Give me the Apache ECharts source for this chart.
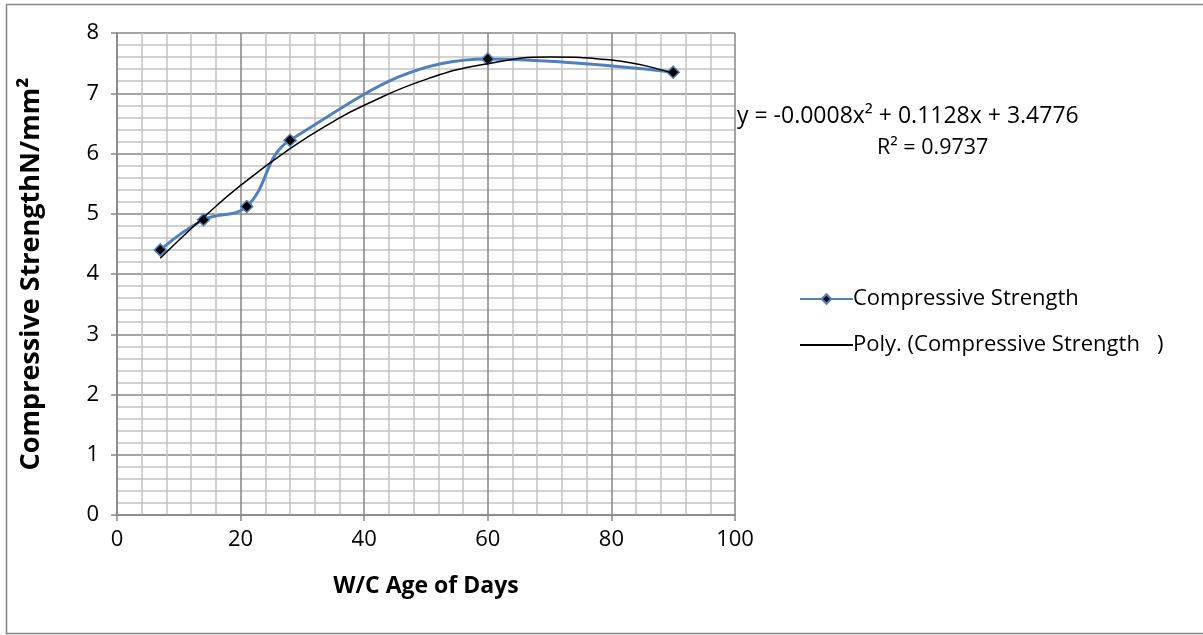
<!DOCTYPE html>
<html>
<head>
<meta charset="utf-8">
<script src="https://cdn.jsdelivr.net/npm/echarts@6/dist/echarts.min.js"></script>
<style>
  html, body { margin: 0; padding: 0; background: #fff; }
  #main_chart { width: 1203px; height: 635px; }
</style>
</head>
<body>
<div id="main_chart"></div>
<script>
// age in days and measured strength
var ageDays = [7, 14, 21, 28, 60, 90];
var strength = [4.4, 4.9, 5.12, 6.22, 7.57, 7.35];

// polynomial trendline
var trendDays = [7, 10, 14, 20, 28, 35, 40, 50, 60, 70, 80, 90];
var trendVals = [4.26, 4.56, 4.94, 5.47, 6.08, 6.53, 6.8, 7.23, 7.49, 7.6, 7.55, 7.33];

var seriesName = 'Compressive Strength';
var trendName = 'Poly. (Compressive Strength   )';
var eqText = 'y = -0.0008x\u00b2 + 0.1128x + 3.4776';
var r2Text = 'R\u00b2 = 0.9737';

var font = '"Open Sans", Lato, sans-serif';
var fs = 22;

const myChart = echarts.init(document.getElementById('main_chart'));

function pairs(xs, ys) {
    return xs.map(function (x, i) { return [x, ys[i]]; });
}

var option = {
    animation: false,
    textStyle: { fontFamily: font },
    grid: { left: 117, right: 468, top: 33, bottom: 120 },
    legend: {
        orient: 'vertical',
        left: 794,
        top: 283,
        itemWidth: 53,
        itemHeight: 12,
        itemGap: 24,
        textStyle: { fontFamily: font, fontSize: fs, color: '#000', padding: [0, 0, 0, -5] },
        data: [
            { name: seriesName },
            { name: trendName, itemStyle: { opacity: 0 } }
        ]
    },
    xAxis: {
        type: 'value',
        min: 0, max: 100, interval: 20,
        name: 'W/C Age of Days',
        nameLocation: 'middle',
        nameGap: 60,
        nameTextStyle: { fontFamily: font, fontSize: 23, fontWeight: 'bold', color: '#000' },
        axisLine: { lineStyle: { color: '#868686', width: 1.5 } },
        axisTick: { show: true, length: 6, lineStyle: { color: '#868686', width: 1.5 } },
        axisLabel: { fontSize: fs, color: '#000', margin: 14 },
        splitLine: { show: true, lineStyle: { color: '#868686', width: 1.5 } },
        minorTick: { show: false, splitNumber: 5 },
        minorSplitLine: { show: true, lineStyle: { color: '#c4c4c4', width: 1.5 } }
    },
    yAxis: {
        type: 'value',
        min: 0, max: 8, interval: 1,
        name: 'Compressive StrengthN/mm\u00b2',
        nameLocation: 'middle',
        nameGap: 72,
        nameTextStyle: { fontFamily: font, fontSize: 27, fontWeight: 'bold', color: '#000' },
        axisLine: { show: true, lineStyle: { color: '#868686', width: 1.5 } },
        axisTick: { show: true, length: 6, lineStyle: { color: '#868686', width: 1.5 } },
        axisLabel: { fontSize: fs, color: '#000', margin: 18 },
        splitLine: { show: true, lineStyle: { color: '#868686', width: 1.5 } },
        minorTick: { show: false, splitNumber: 5 },
        minorSplitLine: { show: true, lineStyle: { color: '#c4c4c4', width: 1.5 } }
    },
    graphic: [
        {
            type: 'rect', silent: true,
            shape: { x: 6.5, y: 4.5, width: 1200, height: 629 },
            style: { fill: null, stroke: '#868686', lineWidth: 1.5 }
        },
        {
            type: 'text', left: 737, top: 105,
            style: { text: eqText, font: '23px ' + font, fill: '#000' }
        },
        {
            type: 'text', left: 877, top: 137,
            style: { text: r2Text, font: '21.5px ' + font, fill: '#000' }
        }
    ],
    series: [
        {
            name: seriesName,
            type: 'line',
            data: pairs(ageDays, strength),
            smooth: 0.4,
            symbol: 'diamond',
            symbolSize: 12,
            lineStyle: { color: '#4f81bd', width: 3 },
            itemStyle: { color: '#000', borderColor: '#4f81bd', borderWidth: 1.5 },
            z: 3
        },
        {
            name: trendName,
            type: 'line',
            data: pairs(trendDays, trendVals),
            smooth: true,
            showSymbol: false,
            symbol: 'none',
            lineStyle: { color: '#000', width: 1.5 },
            itemStyle: { color: '#000' },
            z: 4
        }
    ]
};

myChart.setOption(option);
window.onresize = function () {
    myChart.resize();
};
</script>
</body>
</html>
